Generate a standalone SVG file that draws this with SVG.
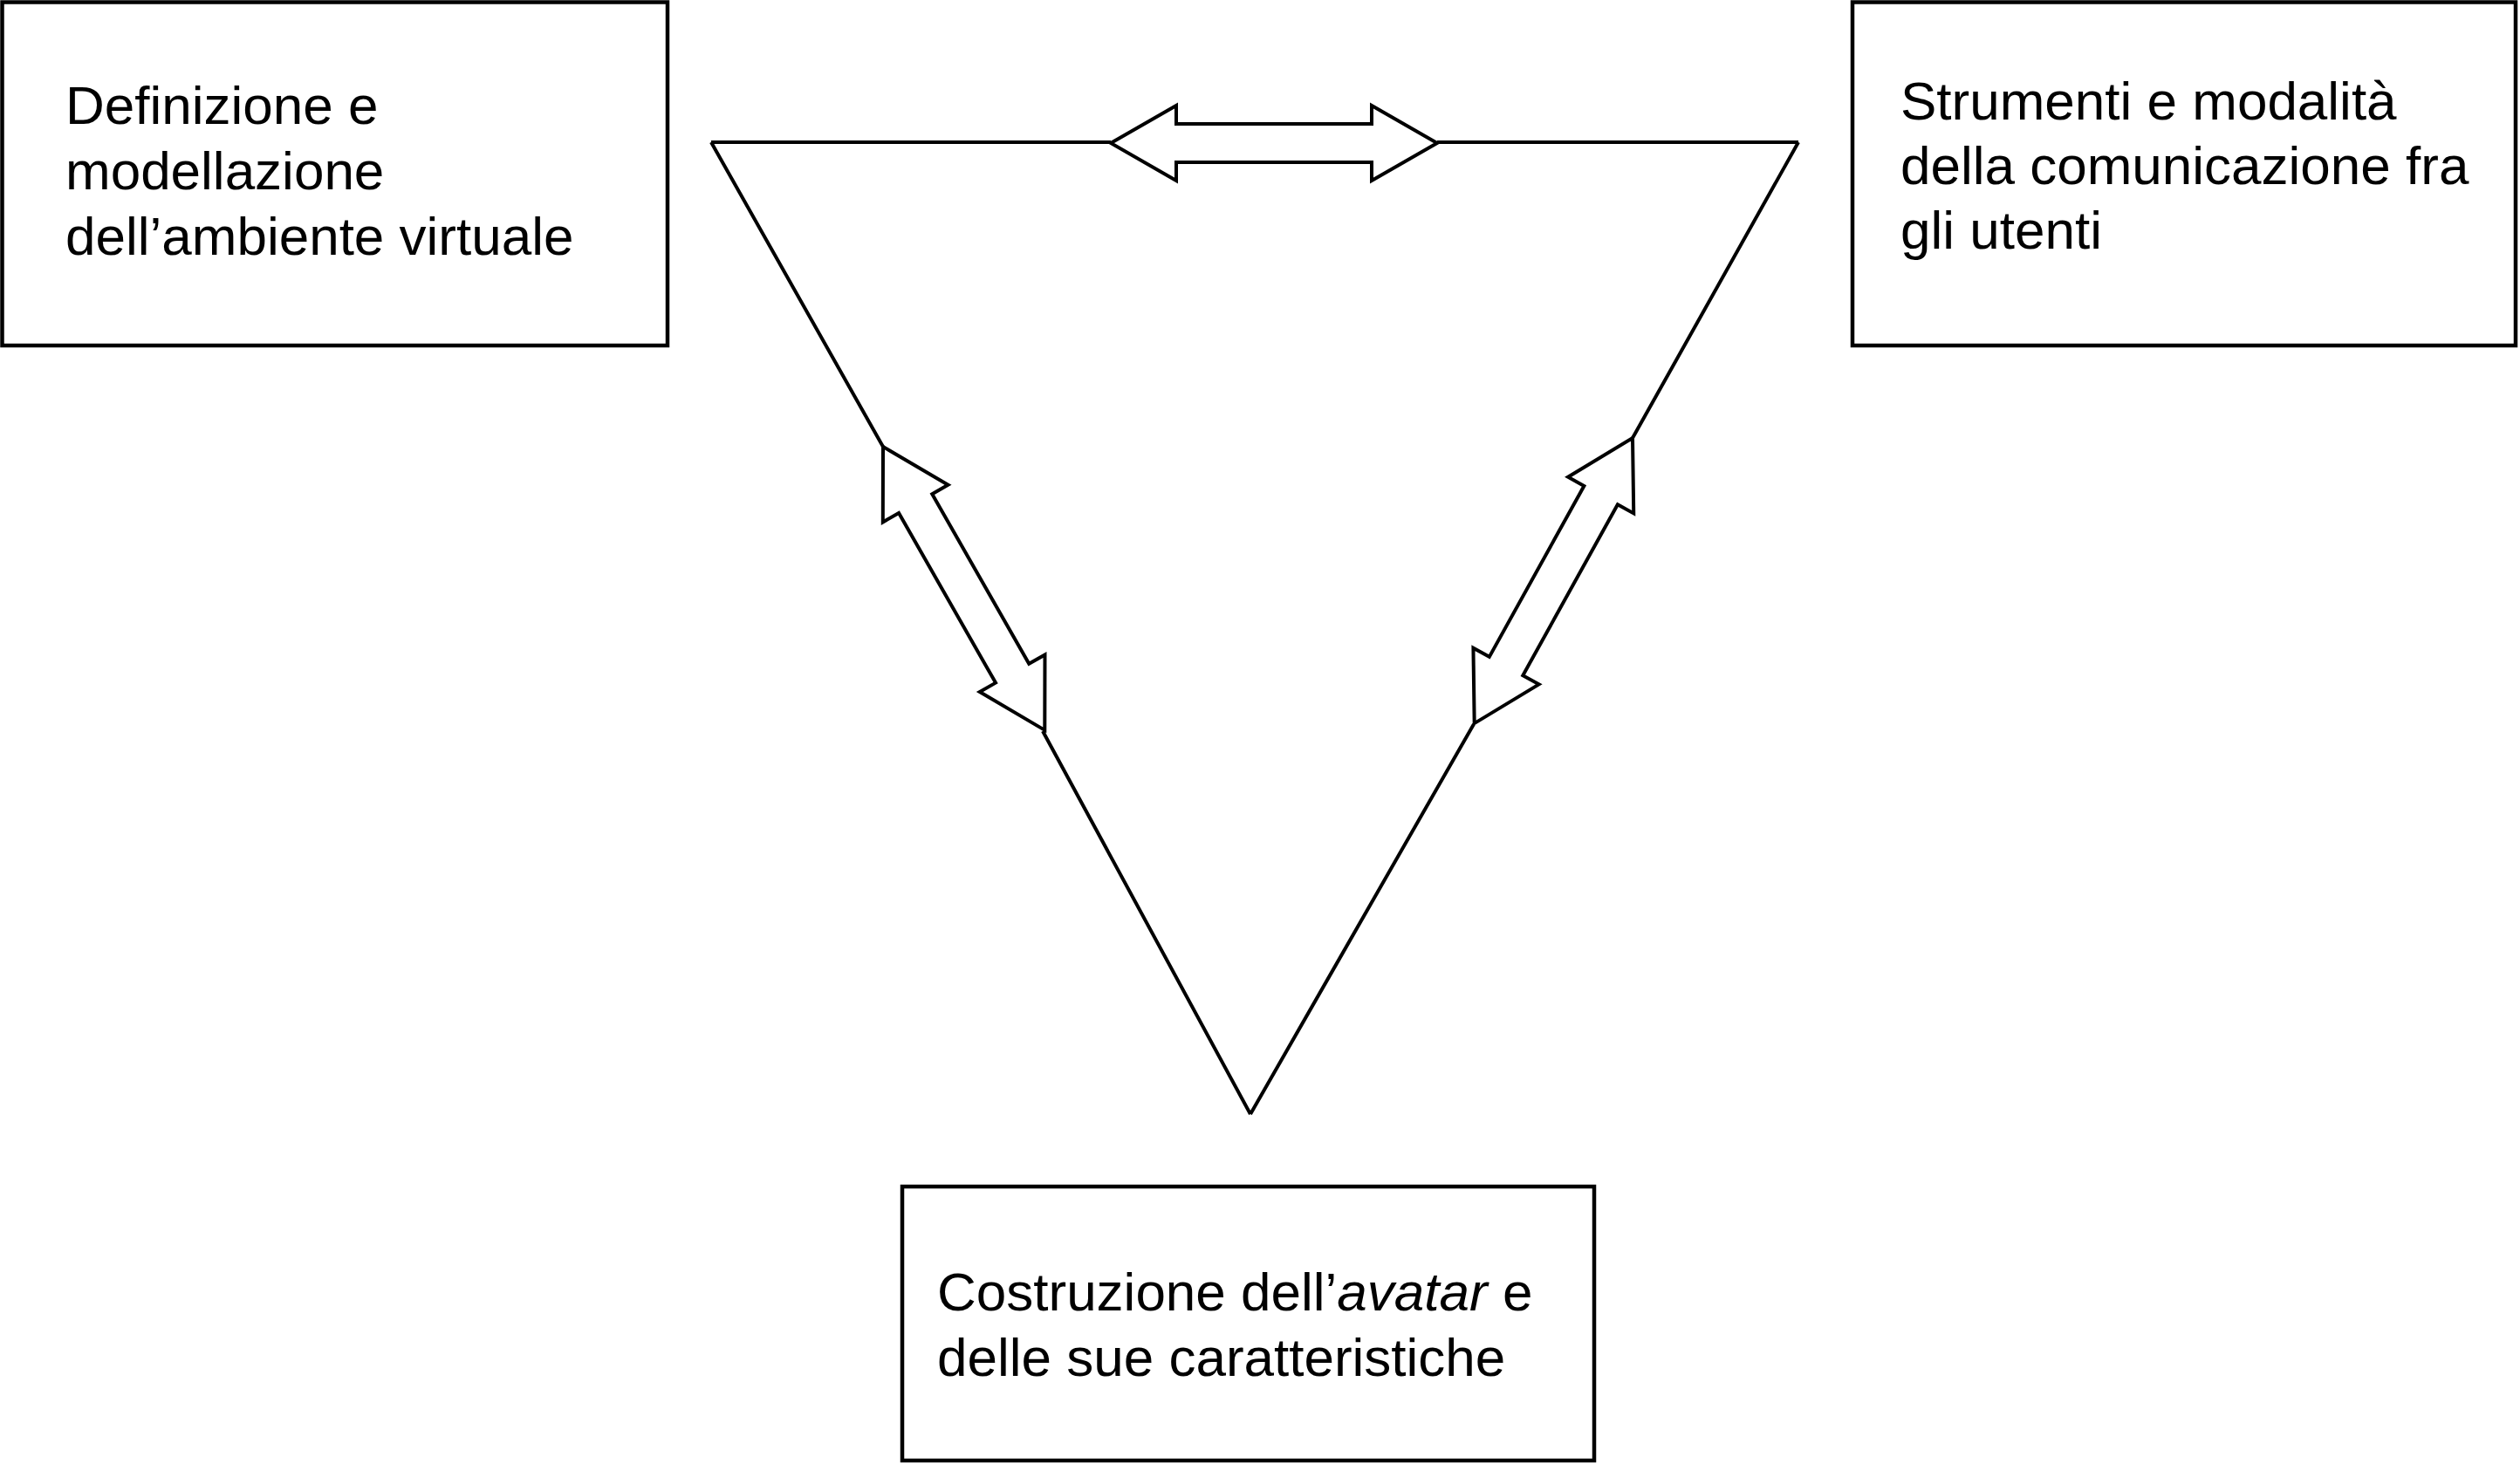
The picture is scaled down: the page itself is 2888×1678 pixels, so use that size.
<svg xmlns="http://www.w3.org/2000/svg" width="2888" height="1678" viewBox="0 0 2888 1678">
<style>
.box{fill:#fff;stroke:#000;stroke-width:4.5}
.lbl{font-family:"Liberation Sans",Arial,Helvetica,sans-serif;font-size:62px;fill:#000}
.edge{fill:none;stroke:#000;stroke-width:4;stroke-linecap:butt}
.arr{fill:#fff;stroke:#000;stroke-width:4;stroke-linejoin:miter}
</style>
<defs>
<path id="dblArrow" d="M0,0 L75,-43 L75,-22 L299,-22 L299,-43 L374,0 L299,43 L299,22 L75,22 L75,43 Z"/>
</defs>
<rect width="2888" height="1678" fill="#fff"/>
<g id="connectors">
<path class="edge" d="M815,163 L1273,163 M1647,163 L2061,163"/>
<path class="edge" d="M815,163 L1012,512 M1195,838 L1433,1277"/>
<path class="edge" d="M2061,163 L1871,502 M1689,830 L1433,1277"/>
<use href="#dblArrow" class="arr" transform="translate(1273,164)"/>
<use href="#dblArrow" class="arr" transform="translate(1012,512) rotate(60.3)"/>
<use href="#dblArrow" class="arr" transform="translate(1871,502) rotate(119)"/>
</g>
<g id="node-ambiente">
<rect class="box" x="2.5" y="2.5" width="762.5" height="393.5"/>
<text class="lbl" x="75" y="142">Definizione e</text>
<text class="lbl" x="75" y="217">modellazione</text>
<text class="lbl" x="75" y="292">dell’ambiente virtuale</text>
</g>
<g id="node-comunicazione">
<rect class="box" x="2123" y="2.5" width="760" height="393.5"/>
<text class="lbl" x="2178" y="137">Strumenti e modalità</text>
<text class="lbl" x="2178" y="211">della comunicazione fra</text>
<text class="lbl" x="2178" y="285">gli utenti</text>
</g>
<g id="node-avatar">
<rect class="box" x="1034" y="1360" width="793" height="314"/>
<text class="lbl" x="1074" y="1502">Costruzione dell’<tspan font-style="italic">avatar</tspan> e</text>
<text class="lbl" x="1074" y="1577">delle sue caratteristiche</text>
</g>
</svg>
